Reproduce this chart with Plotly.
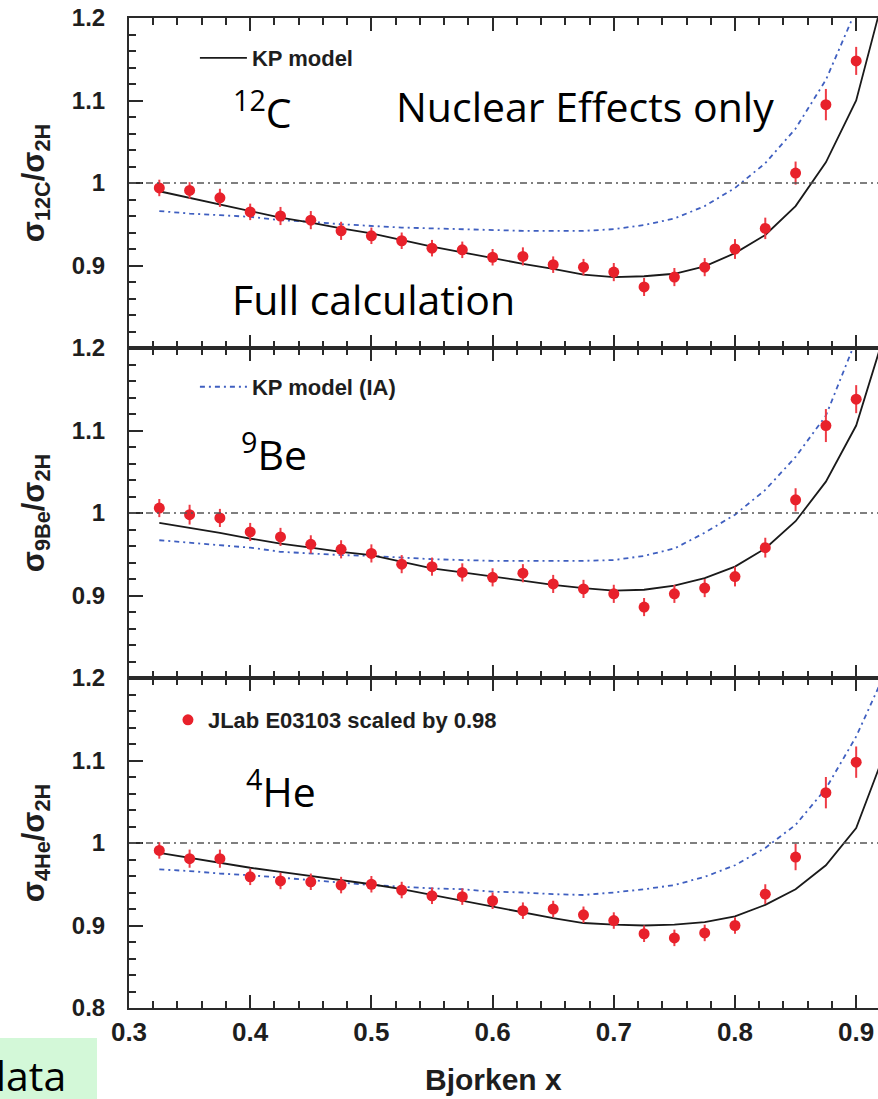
import plotly.graph_objects as go
from plotly.subplots import make_subplots

# ---------------- data ----------------
x_data = [0.325, 0.350, 0.375, 0.400, 0.425, 0.450, 0.475, 0.500, 0.525, 0.550, 0.575, 0.600,
          0.625, 0.650, 0.675, 0.700, 0.725, 0.750, 0.775, 0.800, 0.825, 0.850, 0.875, 0.900]
x_model = [0.325, 0.350, 0.375, 0.400, 0.425, 0.450, 0.475, 0.500, 0.525, 0.550, 0.575, 0.600,
           0.625, 0.650, 0.675, 0.700, 0.725, 0.750, 0.775, 0.800, 0.825, 0.850, 0.875, 0.900, 0.925]

c12_kp = [0.990, 0.982, 0.974, 0.966, 0.958, 0.952, 0.945, 0.939, 0.931, 0.923, 0.916, 0.909,
          0.902, 0.896, 0.889, 0.886, 0.887, 0.890, 0.899, 0.915, 0.937, 0.972, 1.025, 1.100, 1.240]
c12_ia = [0.966, 0.963, 0.961, 0.959, 0.955, 0.953, 0.950, 0.948, 0.946, 0.945, 0.944, 0.943,
          0.942, 0.942, 0.942, 0.944, 0.949, 0.957, 0.972, 0.994, 1.024, 1.066, 1.125, 1.210, 1.300]
c12_data = [0.994, 0.991, 0.982, 0.965, 0.960, 0.955, 0.942, 0.936, 0.930, 0.921, 0.919, 0.910,
            0.911, 0.901, 0.898, 0.892, 0.874, 0.886, 0.898, 0.920, 0.945, 1.012, 1.095, 1.148]
c12_err = [0.010, 0.010, 0.011, 0.010, 0.011, 0.011, 0.011, 0.010, 0.010, 0.010, 0.010, 0.010,
           0.011, 0.010, 0.010, 0.011, 0.011, 0.011, 0.011, 0.012, 0.013, 0.014, 0.019, 0.017]

be9_kp = [0.988, 0.982, 0.976, 0.969, 0.963, 0.958, 0.953, 0.949, 0.941, 0.933, 0.928, 0.923,
          0.918, 0.913, 0.909, 0.906, 0.907, 0.912, 0.921, 0.935, 0.957, 0.990, 1.038, 1.106, 1.225]
be9_ia = [0.967, 0.964, 0.961, 0.958, 0.953, 0.951, 0.949, 0.948, 0.946, 0.944, 0.943, 0.942,
          0.942, 0.942, 0.942, 0.943, 0.948, 0.957, 0.976, 0.998, 1.028, 1.068, 1.118, 1.210, 1.300]
be9_data = [1.006, 0.998, 0.994, 0.977, 0.971, 0.962, 0.956, 0.951, 0.938, 0.935, 0.928, 0.922,
            0.927, 0.914, 0.908, 0.902, 0.886, 0.902, 0.909, 0.923, 0.958, 1.016, 1.106, 1.138]
be9_err = [0.011, 0.012, 0.011, 0.011, 0.011, 0.011, 0.011, 0.011, 0.011, 0.011, 0.011, 0.011,
           0.011, 0.011, 0.011, 0.011, 0.011, 0.011, 0.011, 0.012, 0.012, 0.014, 0.020, 0.017]

he4_kp = [0.988, 0.982, 0.976, 0.970, 0.965, 0.960, 0.955, 0.950, 0.944, 0.937, 0.930, 0.923,
          0.916, 0.909, 0.903, 0.901, 0.900, 0.901, 0.904, 0.911, 0.925, 0.944, 0.973, 1.018, 1.115]
he4_ia = [0.968, 0.966, 0.963, 0.961, 0.958, 0.955, 0.952, 0.949, 0.947, 0.945, 0.944, 0.941,
          0.940, 0.938, 0.937, 0.940, 0.944, 0.949, 0.959, 0.973, 0.994, 1.022, 1.066, 1.129, 1.210]
he4_data = [0.991, 0.981, 0.981, 0.959, 0.954, 0.953, 0.949, 0.950, 0.943, 0.936, 0.935, 0.930,
            0.918, 0.920, 0.913, 0.906, 0.890, 0.885, 0.891, 0.900, 0.938, 0.983, 1.061, 1.098]
he4_err = [0.010, 0.011, 0.011, 0.010, 0.010, 0.010, 0.010, 0.010, 0.010, 0.010, 0.010, 0.010,
           0.010, 0.010, 0.010, 0.010, 0.010, 0.010, 0.010, 0.010, 0.012, 0.016, 0.019, 0.019]

panels = [
    ("σ<sub>12C</sub>/σ<sub>2H</sub>", c12_kp, c12_ia, c12_data, c12_err),
    ("σ<sub>9Be</sub>/σ<sub>2H</sub>", be9_kp, be9_ia, be9_data, be9_err),
    ("σ<sub>4He</sub>/σ<sub>2H</sub>", he4_kp, he4_ia, he4_data, he4_err),
]

y_ticks = [0.8, 0.9, 1.0, 1.1, 1.2]
y_text_top = ["", "0.9", "1", "1.1", "1.2"]
y_text_bottom = ["0.8", "0.9", "1", "1.1", "1.2"]

# ---------------- styles ----------------
AX = "#2a2a2a"
TXT = "#1e1e1e"
BOLD = dict(family="Liberation Sans, Arial, Helvetica, sans-serif", weight="bold", color=TXT)
BIG = dict(family="Open Sans, Lato, sans-serif", size=41, color="black")
RED = "#e8212b"
BLUE = "#3f5fc0"

fig = make_subplots(rows=3, cols=1, vertical_spacing=0)

for i, (ytitle, kp, ia, dat, err) in enumerate(panels):
    r = i + 1
    fig.add_trace(go.Scatter(
        x=x_model, y=ia, mode="lines", name="KP model (IA)",
        line=dict(color=BLUE, width=1.8, dash="5px,4px,2px,4px"),
        showlegend=(r == 2), legend="legend2"), row=r, col=1)
    fig.add_trace(go.Scatter(
        x=x_model, y=kp, mode="lines", name="KP model",
        line=dict(color="#1a1a1a", width=1.8),
        showlegend=(r == 1), legend="legend"), row=r, col=1)
    fig.add_trace(go.Scatter(
        x=x_data, y=dat, mode="markers", name="JLab E03103 scaled by 0.98",
        marker=dict(color=RED, size=11),
        error_y=dict(type="data", array=err, color="#ee3b45", thickness=2, width=0),
        showlegend=(r == 3), legend="legend3"), row=r, col=1)
    fig.add_hline(y=1.0, row=r, col=1,
                  line=dict(color="#555555", width=1.5, dash="7px,4px,2px,4px"))

    fig.update_xaxes(
        row=r, col=1, range=[0.3, 0.918], tickmode="linear", tick0=0.3, dtick=0.1,
        ticks="inside", ticklen=13, tickwidth=2, tickcolor=AX,
        minor=dict(dtick=0.02, ticks="inside", ticklen=7, tickwidth=2, tickcolor=AX),
        showline=True, linecolor=AX, linewidth=2, mirror="allticks",
        showgrid=False, zeroline=False, showticklabels=(r == 3),
        tickfont=dict(size=26, **BOLD))
    fig.update_yaxes(
        row=r, col=1, range=[0.8, 1.2], tickmode="array", tickvals=y_ticks,
        ticktext=(y_text_bottom if r == 3 else y_text_top),
        ticks="inside", ticklen=14, tickwidth=1.6, tickcolor=AX,
        minor=dict(dtick=0.02, ticks="inside", ticklen=7, tickwidth=1.6, tickcolor=AX),
        showline=True, linecolor=AX, linewidth=2, mirror=False,
        showgrid=False, zeroline=False,
        tickfont=dict(size=24, **BOLD), ticklabelstandoff=17,
        title=dict(text=ytitle, font=dict(size=31, **BOLD), standoff=18))

# ---------------- text annotations ----------------
ann = [
    dict(text="<sup>12</sup>C", x=0.384, y=1.088, xref="x", yref="y"),
    dict(text="Nuclear Effects only", x=0.519, y=1.093, xref="x", yref="y"),
    dict(text="Full calculation", x=0.383, y=0.859, xref="x", yref="y"),
    dict(text="<sup>9</sup>Be", x=0.391, y=1.074, xref="x2", yref="y2"),
    dict(text="<sup>4</sup>He", x=0.395, y=1.065, xref="x3", yref="y3"),
]
for a in ann:
    fig.add_annotation(showarrow=False, xanchor="left", yanchor="middle", font=BIG, **a)

fig.add_shape(type="rect", xref="paper", yref="paper",
              x0=-0.1722, x1=-0.0427, y0=-0.0919, y1=-0.0303,
              fillcolor="#d3f8d8", line=dict(width=0), layer="below")
fig.add_annotation(text="data", xref="paper", yref="paper", x=-0.0814, y=-0.0677,
                   xanchor="right", yanchor="middle", showarrow=False, font=BIG)
fig.add_annotation(text="Bjorken x", xref="paper", yref="paper", x=0.486, y=-0.0727,
                   xanchor="center", yanchor="middle", showarrow=False,
                   font=dict(size=30, **BOLD))

leg_common = dict(xanchor="left", yanchor="middle", bgcolor="rgba(0,0,0,0)", borderwidth=0,
                  font=dict(size=22, **BOLD))
fig.update_layout(
    width=878, height=1099,
    margin=dict(l=129, r=0, t=18, b=91),
    paper_bgcolor="white", plot_bgcolor="white",
    legend=dict(x=0.088, y=0.9596, itemwidth=47, **leg_common),
    legend2=dict(x=0.088, y=0.6273, itemwidth=47, **leg_common),
    legend3=dict(x=0.052, y=0.2909, itemwidth=30, **leg_common),
)

fig.write_html("out.html", config={"displayModeBar": False})
